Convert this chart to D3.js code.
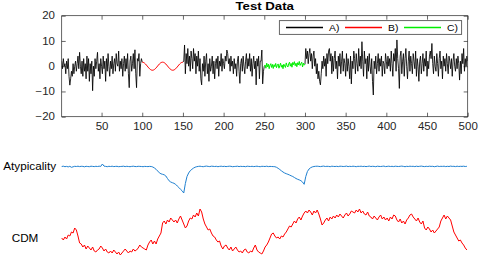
<!DOCTYPE html>
<html><head><meta charset="utf-8">
<script src="https://cdn.jsdelivr.net/npm/d3@7/dist/d3.min.js"></script>
<style>body{margin:0;background:#fff}svg{display:block}text{font-family:"Liberation Sans",Arial,Helvetica,sans-serif;fill:#262626}</style>
</head><body><div id="chart"></div>
<script>
const title = "Test Data";
const xTicks = [50,100,150,200,250,300,350,400,450,500];
const yTicks = [-20,-10,0,10,20];
const legendLabels = ["A)","B)","C)"];
const panelLabels = ["Atypicality","CDM"];

const partA1 = [2,-1,3,0,1,-3,2,-1,3,-4,
-7.5,-5,-2,-4,1,-3,0,2,-2,1,
4,-1,5.5,0,-3,2,-4,3,-2,1,
-5,4,-2,3,-6,1,-3,2,-9.7,0,
-4,3,-1,2,5.5,-2,1,-5,3,0,
-3,4,-1,2,-6,3,-2,5,0,-4,
2,-1,4,-3,1,3,-2,5,1,0,
6,-2,2,-1,3,-4,1,4,-2,3,
-1,5,-3,-8.5,2,4,-2,1,5,-1,
6.5,-3,-8.5,3,2,5,-4,1,3,1.6];
const seriesB = [1.55,1.40,1.17,0.86,0.49,0.10,-0.30,-0.68,-1.02,-1.29,
-1.49,-1.59,-1.59,-1.49,-1.29,-1.02,-0.68,-0.30,0.10,0.49,
0.86,1.17,1.40,1.55,1.60,1.55,1.40,1.17,0.86,0.49,
0.10,-0.30,-0.68,-1.02,-1.29,-1.49,-1.59,-1.59,-1.49,-1.29,
-1.02,-0.68,-0.30,0.10,0.49,0.86,1.17,1.40,1.55,1.60];
const partA2 = [2,8.4,-3,5,1,7,0,4,-2,6,
3,-1,7,2,5,-3,4,0,6,-2,
3,-5,-7.4,1,-2,4,-4,2,5,-3,
1,-6,3,-2,0,4,-3,2,-5,1,
3,-1,4,-4,2,0,5,-2,3,1,
-1,4,2,6.4,5,1,3,-2,4,0,
2,-3,3,-1,1,-4,2,4,-2,-6.8,
1,3,-2,4,0,-3,2,5,-1,3,
0,5,-2,3,-4,1,4,-1,2,-7.4,
3,0,4,-5,2,2,6.4,-7,-2,0];
const seriesC = [0.5,-0.8,1.2,-0.3,0.8,-1,0.4,1,-0.5,0.7,
-0.9,0.6,-0.2,1.1,-0.6,0.3,0.9,-0.8,0.2,1.2,
-0.4,0.5,-1,0.8,0.1,-0.5,1.3,0.2,-0.3,0.9,
1.6,0,1.1,-0.4,1.5,0.6,1.8,0.2,1.2,-0.2,
1.4,0.5,1.9,0.3,1,1.6,-0.3,1.2,0.4,0.8];
const partA3 = [7,3,6,1,5,7,2,5,-1,4,
6,0,3,-3,1,-5,-2,-6,-7.4,-3,
2,-1,4,0,3,-4,5,1,6,7,
2,5,-3,4,-2,3,6,-1,2,-5,
4,0,5,-3,2,6,-2,3,1,-4,
5,-2,3,0,-5,4,-7,2,-1,6,
3,-3,5,1,-2,7,0,4,-1,9.7,
2,-4,6,1,3,-5,4,-2,5,0,
-3,3,-6,-11.4,2,-1,4,-3,1,5,
-2,3,0,4,-4,2,1,-3,5,2,
-1,4,0,3,-2,6,1,-4,5,2,
7,-2,10.4,3,-1,-8.8,4,6,-3,2,
5,-4,3,7,0,-5,2,6,-2,4,
1,-3,5,2,-1,6,-4,3,0,-6,
2,4,-3,1,5,-2,3,0,6,-4,
2,-1,4,6,3,9,1,-3,4,0,
-2,5,1,-4,3,6,-1,2,-5,4,
0,3,-2,5,1,-3,4,2,-1,3,
-4,2,5,0,-2,3,-1,4,1,-5.5,
2,-3,5,1,7,-2,3,0,4,2];
const testData = [...partA1, ...seriesB, ...partA2, ...seriesC, ...partA3];
const rangeB = [100,150];
const rangeC = [250,300];

// sampled every 2 samples (index 1,3,...,499)
const atypicality = [0,0.3,-0.2,0.1,-0.4,0.2,-0.8,-0.3,0.2,0,0.3,-0.1,0.2,0.1,-0.3,0.2,0,-0.2,0.3,0.1,-0.1,0.2,0,0.3,0.1,
2.5,0.4,
0.1,-0.2,0.2,0,0.3,-0.1,0.1,0.2,-0.2,0,0.1,0.3,-0.1,0.2,0,-0.2,0.1,0.3,0,-0.1,0.2,0.1,0,-0.2,0.1,0,-0.1,0.1,0,
-0.5,-1.5,-2.8,-4.5,-6.3,-7.3,-7.8,-8.3,-9.5,-12,-14.3,-15.5,-16.2,-16.8,-17.8,-19.5,-21,-22.8,-24.3,-26.5,-17,-10,-6.5,-4.2,-2.8,-1.6,-0.7,-0.2,
0.1,0.3,0,-0.2,0.2,0.4,0.1,-0.1,0.3,0.2,0,0.2,-0.2,0.1,0.3,0,0.2,-0.1,0.1,0.3,0.2,-0.2,0,0.1,0.3,-0.1,0.2,0,0.1,-0.2,0.3,0.1,0,0.2,-0.1,0.1,0.3,0,-0.2,0.2,0.1,0,0.3,-0.1,0.1,0,-0.1,
-0.2,-0.8,-1.8,-3,-4.3,-5.5,-6.5,-7.2,-7.8,-8.5,-9.3,-10,-11,-12,-12.8,-13.4,-14.2,-15.5,-17.8,-10,-5,-2.5,-1.2,-0.4,
0,0.2,0.3,0.1,-0.1,0.2,0.4,0,0.2,0.1,-0.2,0.3,0.1,0,0.2,-0.1,0.3,0.2,0,0.1,
0.4,-0.1,0.2,0,0.3,0.1,-0.2,0.2,0.1,0.3,0,0.2,-0.1,0.1,0.4,0,0.2,0.1,-0.2,0.3,
0.1,0,0.2,0.4,-0.1,0.1,0.3,0,0.2,-0.1,0.3,0.1,0,0.2,0.4,0.1,-0.2,0.2,0,0.3,
0.1,0.2,-0.1,0.3,0,0.2,0.4,0.1,-0.1,0.2,0,0.3,0.1,0.2,-0.2,0.1,0.4,0,0.2,0.1,
0.3,-0.1,0.2,0,0.4,0.1,0.2,-0.1,0.3,0,0.2,0.1,0.3,0,0.2];
const cdm = [19,17,20,18,22,21,25,24,29,27,
21,14,13,10,12,8,11,9,7,10,
6,5,7,8,11,9,6,8,5,4,
6,4,7,5,3,5,2,4,6,8,
6,4,6,5,8,6,7,9,12,10,
9,8,7,12,15,17,13,16,13,18,
21,24,34,36,33,37,35,39,37,35,
37,34,38,41,37,33,29,31,36,39,
38,42,40,44,41,48,45,38,33,30,
27,28,24,21,20,17,15,16,11,8,
11,12,9,7,10,6,8,10,7,5,
6,4,7,8,5,4,6,5,9,12,
7,5,4,3,6,10,12,15,19,23,
24,21,19,20,18,21,20,23,25,28,
31,30,33,36,34,38,40,37,41,44,
46,44,47,45,42,46,44,47,43,38,
32,34,37,39,36,40,38,41,39,42,
40,43,41,39,42,44,41,43,46,45,
44,47,45,48,44,46,43,42,45,41,
40,38,41,39,37,40,42,38,40,37,
39,36,40,38,42,41,37,35,38,34,
36,33,37,39,42,43,40,38,36,39,
35,33,36,29,27,30,28,25,27,24,
26,28,30,36,39,42,38,41,39,37,
31,25,22,19,16,17,14,12,9,7];

const W = 484, H = 263, SX = 1.15;
const axisColor = "#262626";
const svg = d3.select("#chart").append("svg").attr("width", W).attr("height", H);

const x = d3.scaleLinear().domain([1,500]).range([61.7,467.7]);
const y = d3.scaleLinear().domain([-20,20]).range([116.7,15.7]);

function stretch(sel){
  sel.each(function(){
    const t = d3.select(this);
    const cx = +t.attr("x") || 0;
    t.attr("x", cx / SX).attr("transform", `scale(${SX},1)`);
  });
}

// axes
const gx = svg.append("g").attr("transform", `translate(0,${y(-20)})`)
  .call(d3.axisBottom(x).tickValues(xTicks).tickSizeInner(-4).tickSizeOuter(0).tickPadding(6.6));
gx.selectAll("text").style("font-size","10px");
gx.selectAll(".tick text").call(stretch);
const gy = svg.append("g").attr("transform", `translate(${x(1)},0)`)
  .call(d3.axisLeft(y).tickValues(yTicks).tickSizeInner(-4).tickSizeOuter(0).tickPadding(6.7));
gy.selectAll("text").style("font-size","10px");
gy.selectAll(".tick text").call(stretch);
const gt = svg.append("g").attr("transform", `translate(0,${y(20)})`)
  .call(d3.axisTop(x).tickValues(xTicks).tickSizeInner(-4).tickSizeOuter(0).tickFormat(""));
const gr = svg.append("g").attr("transform", `translate(${x(500)},0)`)
  .call(d3.axisRight(y).tickValues(yTicks).tickSizeInner(-4).tickSizeOuter(0).tickFormat(""));
[gx,gy,gt,gr].forEach(g=>{
  g.select(".domain").remove();
  g.selectAll("line").attr("stroke", axisColor).attr("stroke-width",0.7);
  g.selectAll("text").style("fill", axisColor).attr("font-family","Liberation Sans, Arial, sans-serif");
});

svg.append("clipPath").attr("id","clipTop").append("rect")
  .attr("x", x(1)).attr("y", y(20)).attr("width", x(500)-x(1)).attr("height", y(-20)-y(20));

const inA = d => d <= rangeB[0] || (d >= rangeB[1] && d <= rangeC[0]) || d >= rangeC[1];
const line = d3.line().defined((v,i)=>inA(i+1)).x((v,i)=>x(i+1)).y(v=>y(v));
const plot = svg.append("g").attr("clip-path","url(#clipTop)");
plot.append("path").attr("d", line(testData)).attr("fill","none").attr("stroke","#000").attr("stroke-width",0.85);
const segLine = start => d3.line().x((v,i)=>x(start+i)).y(v=>y(v));
plot.append("path").attr("d", segLine(rangeB[0])(testData.slice(rangeB[0]-1, rangeB[1])))
  .attr("fill","none").attr("stroke","#ff0000").attr("stroke-width",1);
plot.append("path").attr("d", segLine(rangeC[0])(testData.slice(rangeC[0]-1, rangeC[1])))
  .attr("fill","none").attr("stroke","#00ee00").attr("stroke-width",1);

// box
svg.append("rect").attr("x", x(1)).attr("y", y(20)).attr("width", x(500)-x(1)).attr("height", y(-20)-y(20))
  .attr("fill","none").attr("stroke", axisColor).attr("stroke-width",0.7);

// title
svg.append("text").attr("x", (x(1)+x(500))/2/SX).attr("y", 10).attr("transform",`scale(${SX},1)`)
  .attr("text-anchor","middle").style("font-size","11.5px").style("font-weight","bold").style("fill","#000").text(title);

// legend
const legendColors = ["#000000","#ff0000","#00ee00"];
const lg = svg.append("g");
lg.append("rect").attr("x",279.3).attr("y",20.7).attr("width",182.4).attr("height",13.6)
  .attr("fill","#fff").attr("stroke",axisColor).attr("stroke-width",0.7);
const legendX = [286, 345, 404];
legendLabels.forEach((lab,i)=>{
  lg.append("line").attr("x1",legendX[i]).attr("x2",legendX[i]+37).attr("y1",27.5).attr("y2",27.5)
    .attr("stroke",legendColors[i]).attr("stroke-width",1.3);
  lg.append("text").attr("x",(legendX[i]+43)/SX).attr("y",30.8).attr("transform",`scale(${SX},1)`)
    .style("font-size","9px").style("fill","#000").text(lab);
});

// bottom panels
const idx2 = i => 1 + 2*i;
const yA = d3.scaleLinear().domain([-30,5]).range([196.5,161.5]);
const yC = d3.scaleLinear().domain([0,50]).range([257,207]);
svg.append("path").attr("d", d3.line().x((v,i)=>x(idx2(i))).y(v=>yA(v))(atypicality))
  .attr("fill","none").attr("stroke","#1f80d0").attr("stroke-width",1);
svg.append("path").attr("d", d3.line().x((v,i)=>x(idx2(i))).y(v=>yC(v))(cdm))
  .attr("fill","none").attr("stroke","#ff0000").attr("stroke-width",1);

svg.append("text").attr("x",3.3/SX).attr("y",170).attr("transform",`scale(${SX},1)`)
  .style("font-size","10.2px").style("fill","#000").text(panelLabels[0]);
svg.append("text").attr("x",11.7/SX).attr("y",241.7).attr("transform",`scale(${SX},1)`)
  .style("font-size","10.2px").style("fill","#000").text(panelLabels[1]);
</script></body></html>
